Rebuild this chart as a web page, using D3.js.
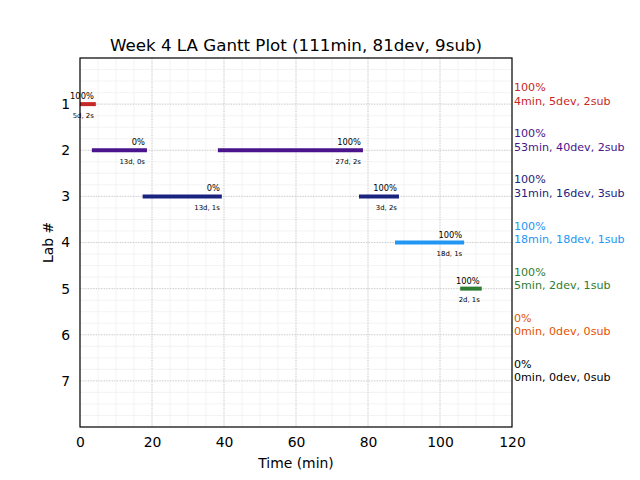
<!DOCTYPE html>
<html>
<head>
<meta charset="utf-8">
<script src="https://cdn.jsdelivr.net/npm/d3@7"></script>
<style>
  html, body { margin: 0; padding: 0; background: #fff; }
  svg { display: block; font-family: "DejaVu Sans", sans-serif; }
</style>
</head>
<body>
<svg id="chart" width="640" height="480"></svg>
<script>
// ---- data ----
const title = "Week 4 LA Gantt Plot (111min, 81dev, 9sub)";
const labs = [1, 2, 3, 4, 5, 6, 7];
const labColors = ["#c62828", "#4a148c", "#1a237e", "#2196f3", "#2e7d32", "#e65100", "#000000"];
const labPct = ["100%", "100%", "100%", "100%", "100%", "0%", "0%"];
const labSummary = ["4min, 5dev, 2sub", "53min, 40dev, 2sub", "31min, 16dev, 3sub",
                    "18min, 18dev, 1sub", "5min, 2dev, 1sub", "0min, 0dev, 0sub", "0min, 0dev, 0sub"];

const segLab   = [1, 2, 2, 3, 3, 4, 5];
const segStart = [0, 3.3, 38.3, 17.4, 77.5, 87.5, 105.6];
const segEnd   = [4.4, 18.6, 78.6, 39.4, 88.6, 106.7, 111.6];
const segPct   = ["100%", "0%", "100%", "0%", "100%", "100%", "100%"];
const segInfo  = ["5d, 2s", "13d, 0s", "27d, 2s", "13d, 1s", "3d, 2s", "18d, 1s", "2d, 1s"];

const xTicks = [0, 20, 40, 60, 80, 100, 120];

// ---- layout ----
const L = 80, R = 512, T = 58, B = 427;
const svg = d3.select("#chart");
const x = d3.scaleLinear().domain([0, 120]).range([L, R]);
const y = d3.scaleLinear().domain([0, 8]).range([T, B]);

// minor grid
const g = svg.append("g");
g.selectAll("line.mx").data(d3.range(0, 121, 5)).join("line")
  .attr("x1", d => x(d)).attr("x2", d => x(d)).attr("y1", T).attr("y2", B)
  .attr("stroke", "#f0f0f0").attr("stroke-width", 0.8);
g.selectAll("line.my").data(d3.range(0, 8.01, 0.25)).join("line")
  .attr("y1", d => y(d)).attr("y2", d => y(d)).attr("x1", L).attr("x2", R)
  .attr("stroke", "#f0f0f0").attr("stroke-width", 0.8);

// major grid
g.selectAll("line.gx").data(xTicks.slice(1, -1)).join("line")
  .attr("x1", d => x(d)).attr("x2", d => x(d)).attr("y1", T).attr("y2", B)
  .attr("stroke", "#bbbbbb").attr("stroke-width", 0.8).attr("stroke-dasharray", "1,1.65");
g.selectAll("line.gy").data(labs).join("line")
  .attr("y1", d => y(d)).attr("y2", d => y(d)).attr("x1", L).attr("x2", R)
  .attr("stroke", "#bbbbbb").attr("stroke-width", 0.8).attr("stroke-dasharray", "1,1.65");

// bars
const segs = segLab.map((l, i) => ({lab: l, s: segStart[i], e: segEnd[i], pct: segPct[i], info: segInfo[i]}));
svg.append("g").selectAll("line").data(segs).join("line")
  .attr("x1", d => x(d.s)).attr("x2", d => x(d.e))
  .attr("y1", d => y(d.lab)).attr("y2", d => y(d.lab))
  .attr("stroke", d => labColors[d.lab - 1]).attr("stroke-width", 4);

svg.append("g").selectAll("text").data(segs).join("text")
  .attr("x", d => x(d.e) - 2).attr("y", d => y(d.lab) - 5)
  .attr("text-anchor", "end").attr("font-size", 8.3).attr("fill", "#000")
  .text(d => d.pct);
svg.append("g").selectAll("text").data(segs).join("text")
  .attr("x", d => x(d.e) - 2).attr("y", d => y(d.lab) + 13.5)
  .attr("text-anchor", "end").attr("font-size", 6.9).attr("fill", "#000")
  .text(d => d.info);

// axes
const xAxis = svg.append("g").attr("transform", `translate(0,${B})`)
  .call(d3.axisBottom(x).tickValues(xTicks).tickSize(0).tickPadding(10).tickFormat(d3.format("d")));
xAxis.select(".domain").remove();
xAxis.selectAll("text").attr("font-size", 13.9).attr("font-family", "DejaVu Sans").attr("fill", "#000");

const yAxis = svg.append("g").attr("transform", `translate(${L},0)`)
  .call(d3.axisLeft(y).tickValues(labs).tickSize(0).tickPadding(10).tickFormat(d3.format("d")));
yAxis.select(".domain").remove();
yAxis.selectAll("text").attr("font-size", 13.9).attr("font-family", "DejaVu Sans").attr("fill", "#000");

// frame
svg.append("rect").attr("x", L).attr("y", T).attr("width", R - L).attr("height", B - T)
  .attr("fill", "none").attr("stroke", "#000").attr("stroke-width", 1.2);

// right labels
const rl = svg.append("g").selectAll("text").data(labs).join("text")
  .attr("font-size", 11.1)
  .attr("fill", (d, i) => labColors[i]);
rl.append("tspan").attr("x", 514).attr("y", d => y(d) - 13).text((d, i) => labPct[i]);
rl.append("tspan").attr("x", 514).attr("y", d => y(d) + 0.5).text((d, i) => labSummary[i]);

// titles
svg.append("text").attr("x", (L + R) / 2).attr("y", 51).attr("text-anchor", "middle")
  .attr("font-size", 16.7).text(title);
svg.append("text").attr("x", (L + R) / 2).attr("y", 468).attr("text-anchor", "middle")
  .attr("font-size", 13.9).text("Time (min)");
svg.append("text").attr("transform", `translate(53,${(T + B) / 2}) rotate(-90)`)
  .attr("text-anchor", "middle").attr("font-size", 13.9).text("Lab #");
</script>
</body>
</html>
